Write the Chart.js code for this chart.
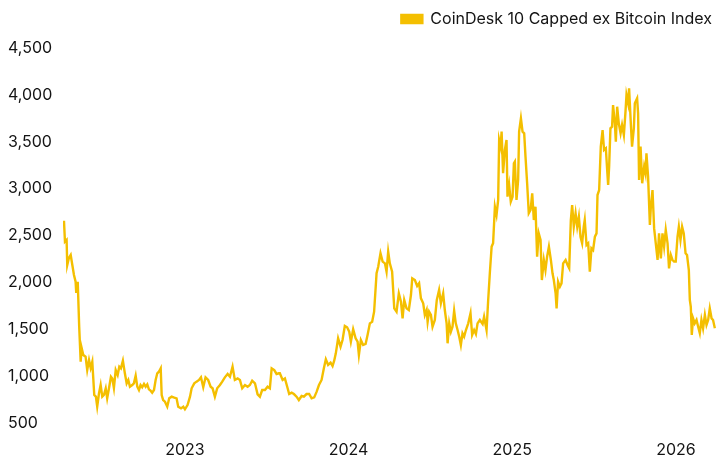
<!DOCTYPE html>
<html lang="en">
<head>
  <meta charset="UTF-8">
  <title>CoinDesk 10 Capped ex Bitcoin Index</title>
  <script src="https://cdn.jsdelivr.net/npm/chart.js"></script>
  <style>
    * { box-sizing: border-box; margin: 0; padding: 0; }
    body { background: #fff; width: 716px; height: 458px; overflow: hidden; }
    .chart-wrap { position: relative; width: 716px; height: 458px; }
  </style>
</head>
<body>
  <div class="chart-wrap">
    <canvas id="indexChart"></canvas>
  </div>

  <script>
    // Decimal-year position of each reading, and the index level read at it
    const dates = [
      2022.261,2022.267,2022.277,2022.281,2022.291,2022.302,2022.312,2022.322,2022.332,2022.336,
      2022.345,2022.348,2022.354,2022.363,2022.369,2022.379,2022.393,2022.403,2022.414,2022.424,
      2022.434,2022.446,2022.456,2022.464,2022.475,2022.485,2022.495,2022.505,2022.516,2022.525,
      2022.536,2022.548,2022.556,2022.566,2022.577,2022.589,2022.599,2022.609,2022.621,2022.633,
      2022.644,2022.654,2022.664,2022.678,2022.688,2022.699,2022.709,2022.719,2022.729,2022.739,
      2022.750,2022.760,2022.770,2022.780,2022.790,2022.800,2022.811,2022.821,2022.831,2022.841,
      2022.852,2022.858,2022.867,2022.878,2022.892,2022.904,
      2022.919,2022.935,2022.949,2022.959,2022.976,2022.990,2023.000,2023.016,2023.031,2023.041,
      2023.057,2023.071,2023.086,2023.098,2023.112,2023.126,2023.142,2023.157,2023.169,2023.183,
      2023.197,2023.214,2023.228,2023.244,2023.261,2023.275,2023.291,2023.305,2023.322,2023.336,
      2023.350,2023.367,2023.383,2023.397,2023.411,2023.428,2023.444,2023.458,2023.472,2023.489,
      2023.505,2023.519,2023.530,2023.546,2023.560,2023.574,
      2023.580,2023.597,2023.611,2023.625,2023.637,2023.652,2023.666,2023.682,2023.696,2023.713,
      2023.727,2023.743,2023.759,2023.774,2023.790,2023.805,2023.819,2023.835,2023.849,2023.861,
      2023.875,2023.890,2023.902,2023.912,2023.922,2023.936,2023.951,2023.963,2023.977,2023.991,
      2024.004,2024.014,2024.028,2024.043,2024.055,2024.063,2024.075,2024.089,2024.104,2024.116,
      2024.130,2024.144,2024.156,2024.171,2024.181,2024.195,2024.208,
      2024.222,2024.232,2024.242,2024.252,2024.266,2024.279,2024.293,2024.307,2024.320,2024.330,
      2024.340,2024.354,2024.368,2024.381,2024.389,2024.405,2024.419,2024.431,2024.442,2024.456,
      2024.466,2024.477,2024.483,2024.492,2024.503,2024.513,2024.527,2024.539,2024.553,2024.564,
      2024.578,2024.588,2024.599,2024.605,2024.615,2024.625,2024.635,2024.645,2024.655,2024.666,
      2024.676,2024.686,2024.696,2024.706,2024.717,2024.731,2024.745,2024.755,2024.767,2024.778,
      2024.788,
      2024.802,2024.819,2024.828,2024.843,2024.853,2024.863,2024.874,2024.883,2024.894,2024.904,
      2024.914,2024.920,2024.929,2024.935,2024.944,2024.955,2024.965,2024.971,2024.981,2024.991,
      2025.002,2025.010,2025.016,2025.026,2025.036,2025.042,2025.053,2025.063,2025.073,2025.081,
      2025.091,2025.101,2025.112,2025.122,2025.132,2025.142,2025.152,2025.162,2025.173,2025.181,
      2025.193,2025.203,2025.213,2025.224,2025.236,2025.246,2025.254,2025.265,2025.271,2025.280,
      2025.291,2025.301,2025.311,
      2025.326,2025.338,2025.348,2025.358,2025.366,2025.376,2025.387,2025.397,2025.407,2025.417,
      2025.427,2025.437,2025.443,2025.454,2025.464,2025.474,2025.484,2025.494,2025.505,2025.515,
      2025.521,2025.531,2025.541,2025.552,2025.561,2025.572,2025.580,2025.586,2025.592,2025.600,
      2025.610,2025.616,2025.627,2025.633,2025.641,2025.651,2025.662,2025.671,2025.682,2025.692,
      2025.698,2025.708,2025.714,
      2025.725,2025.732,2025.743,2025.749,2025.763,2025.769,2025.775,2025.784,2025.794,2025.806,
      2025.814,2025.820,2025.830,2025.841,2025.847,2025.857,2025.867,2025.877,2025.888,2025.897,
      2025.908,2025.918,2025.928,2025.938,2025.949,2025.958,2025.969,2025.979,2025.989,2025.999,
      2026.010,2026.018,2026.028,2026.038,2026.048,2026.059,2026.068,2026.079,2026.085,2026.091,
      2026.097,2026.105,2026.115,2026.126,2026.136,2026.146,2026.156,2026.166,2026.177,2026.187,
      2026.197,2026.207,2026.218,2026.227,2026.238
    ];

    const values = [
      2658,2434,2452,2185,2260,2292,2185,2079,2007,1887,
      2007,1847,1527,1154,1300,1225,1207,1065,1172,1087,
      1154,799,781,674,817,905,781,799,870,763,
      870,994,976,873,1065,1012,1101,1083,1165,1030,
      923,959,887,905,923,1005,887,852,905,881,
      916,887,912,859,845,823,852,959,1030,1047,
      1083,799,745,727,674,763,
      781,770,763,674,656,674,646,692,781,870,
      923,941,959,987,881,987,959,887,870,781,
      870,905,941,987,1023,994,1101,959,976,959,
      870,905,887,905,951,923,806,781,852,852,
      887,870,1083,1065,1023,1030,
      1030,959,976,887,809,823,809,781,745,788,
      781,809,809,763,773,834,905,959,1083,1180,
      1119,1143,1108,1165,1243,1403,1314,1385,1535,1521,
      1474,1367,1500,1403,1367,1225,1385,1332,1343,1439,
      1563,1580,1687,2097,2167,2310,2221,
      2203,2114,2327,2203,2114,1723,1687,1883,1794,1616,
      1812,1723,1705,1865,2043,2025,1961,1990,1830,1777,
      1652,1705,1580,1687,1652,1527,1599,1812,1919,1777,
      1883,1705,1563,1350,1563,1474,1527,1698,1563,1492,
      1421,1332,1457,1421,1492,1563,1670,1439,1492,1449,
      1563,
      1599,1556,1634,1492,1812,2097,2381,2417,2807,2719,
      2879,3519,3448,3608,3164,3412,3519,2914,3039,2861,
      2914,3270,3288,2879,3092,3608,3750,3608,3590,3341,
      3057,2737,2772,2950,2665,2807,2274,2523,2452,2025,
      2239,2132,2274,2381,2239,2097,2025,1883,1723,2007,
      1954,1990,2203,
      2239,2185,2150,2665,2825,2594,2737,2594,2701,2487,
      2417,2594,2665,2399,2417,2114,2363,2345,2487,2523,
      2932,2985,3448,3625,3412,3430,3199,3039,3235,3643,
      3661,3892,3697,3501,3874,3697,3590,3679,3572,3821,
      3999,3910,4070,
      3679,3448,3643,3910,3963,3803,3092,3448,3057,3235,
      3164,3377,3128,2612,2807,2985,2576,2417,2239,2523,
      2256,2523,2381,2559,2417,2150,2292,2239,2221,2221,
      2487,2594,2452,2594,2523,2310,2292,2132,1812,1740,
      1439,1616,1563,1599,1527,1457,1599,1510,1652,1545,
      1599,1723,1616,1599,1510
    ];

    const yearTicks = [2023, 2024, 2025, 2026];
    const valueTicks = [500, 1000, 1500, 2000, 2500, 3000, 3500, 4000, 4500];
    const seriesLabel = 'CoinDesk 10 Capped ex Bitcoin Index';

    const yellow = '#F4BF00';
    const textColor = '#141414';
    const font = { family: 'Inter, "Noto Sans", sans-serif', size: 16 };

    const points = dates.map((d, i) => ({ x: d, y: values[i] }));

    // legend keeps its own text position but reserves more room below it
    const legendRoom = {
      id: 'legendRoom',
      afterInit(chart) {
        const legend = chart.legend;
        const fit = legend.fit;
        legend.fit = function () {
          fit.call(this);
          this.height = 41;
        };
      }
    };

    new Chart(document.getElementById('indexChart'), {
      type: 'line',
      data: {
        datasets: [{
          label: seriesLabel,
          data: points,
          borderColor: yellow,
          backgroundColor: yellow,
          borderWidth: 2.4,
          pointRadius: 0,
          tension: 0
        }]
      },
      plugins: [legendRoom],
      options: {
        responsive: true,
        maintainAspectRatio: false,
        animation: false,
        locale: 'en-US',
        layout: { padding: { left: 8, right: 0, top: 7, bottom: 0 } },
        plugins: {
          legend: {
            position: 'top',
            align: 'end',
            labels: {
              color: textColor,
              font: font,
              boxWidth: 21,
              boxHeight: 8,
              padding: 4
            }
          },
          tooltip: { enabled: false }
        },
        scales: {
          x: {
            type: 'linear',
            min: 2022.255,
            max: 2026.245,
            grid: { display: false, drawTicks: false },
            border: { display: false },
            afterBuildTicks: scale => {
              scale.ticks = yearTicks.map(v => ({ value: v }));
            },
            afterFit: scale => { scale.height = 35; },
            ticks: {
              color: textColor,
              font: font,
              padding: 18,
              maxRotation: 0,
              callback: v => String(v)
            }
          },
          y: {
            min: 500,
            max: 4500,
            grid: { display: false, drawTicks: false },
            border: { display: false },
            afterBuildTicks: scale => {
              scale.ticks = valueTicks.map(v => ({ value: v }));
            },
            afterFit: scale => { scale.width = 55; },
            ticks: {
              color: textColor,
              font: font,
              crossAlign: 'far',
              padding: 0
            }
          }
        }
      }
    });
  </script>
</body>
</html>
